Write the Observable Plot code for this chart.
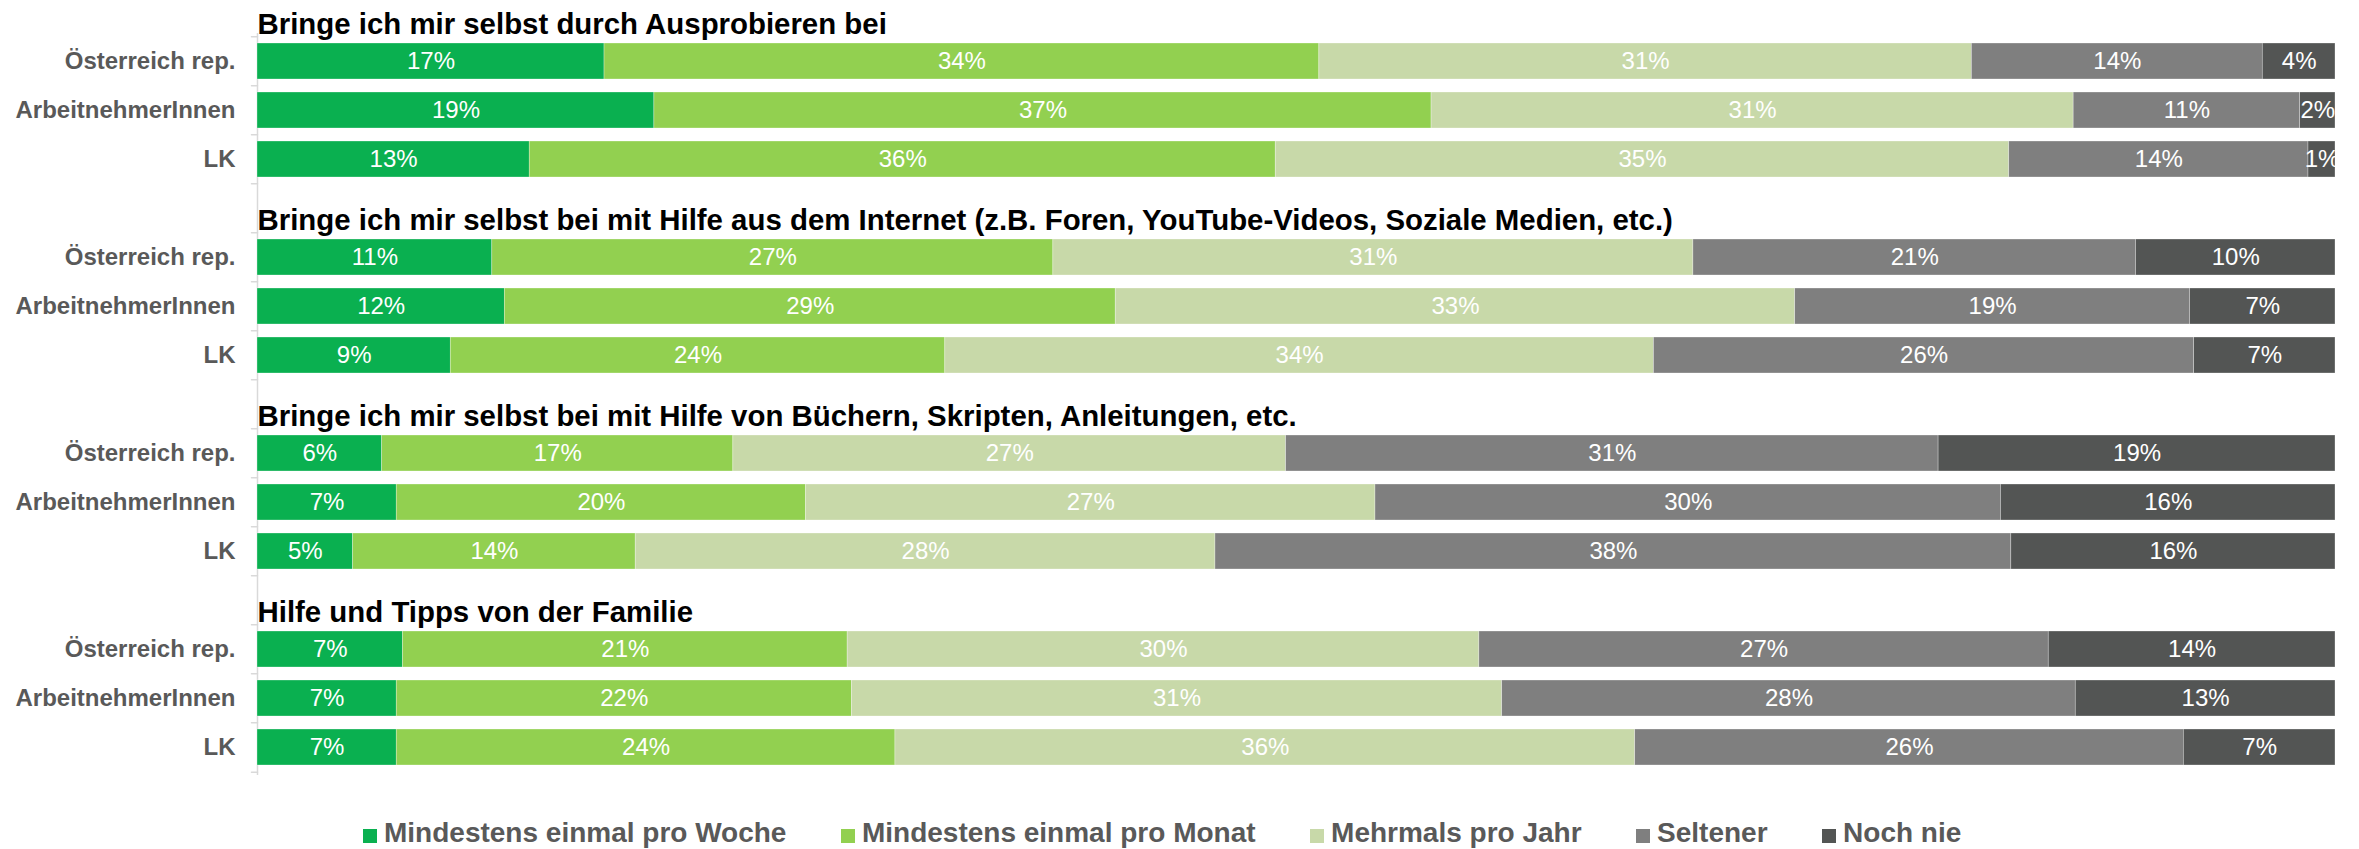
<!DOCTYPE html>
<html>
<head>
<meta charset="utf-8">
<script src="https://cdn.jsdelivr.net/npm/d3@7"></script>
<script src="https://cdn.jsdelivr.net/npm/@observablehq/plot@0.6"></script>
<style>
  html, body { margin: 0; padding: 0; background: #ffffff; }
  body { width: 2359px; height: 849px; overflow: hidden; font-family: "Liberation Sans", Arial, sans-serif; }
  #chart svg { display: block; }
  #legend { display: flex; align-items: center; padding-left: 363px; margin-top: 27px; height: 32px; line-height: 32px; }
  .item { display: flex; align-items: center; margin-right: 54.5px; font-weight: bold; font-size: 28px; color: #595959; white-space: nowrap; }
  .sw { width: 14px; height: 14px; margin-right: 7px; position: relative; top: 3px; }
</style>
</head>
<body>
<div id="chart"></div>
<div id="legend"></div>
<script>
// ---- data ----
const groupTitles = [
  "Bringe ich mir selbst durch Ausprobieren bei",
  "Bringe ich mir selbst bei mit Hilfe aus dem Internet (z.B. Foren, YouTube-Videos, Soziale Medien, etc.)",
  "Bringe ich mir selbst bei mit Hilfe von Büchern, Skripten, Anleitungen, etc.",
  "Hilfe und Tipps von der Familie"
];
const respondents = ["Österreich rep.", "ArbeitnehmerInnen", "LK"];
const categories = ["Mindestens einmal pro Woche", "Mindestens einmal pro Monat", "Mehrmals pro Jahr", "Seltener", "Noch nie"];
const colors = ["#0AB050", "#92D050", "#C8D9A9", "#7F7F7F", "#535554"];

// values per respondent (rows) and category (columns), in %
const ausprobieren = [
  [16.7, 34.4, 31.4, 14.0, 3.5],
  [19.1, 37.4, 30.9, 10.9, 1.7],
  [13.1, 35.9, 35.3, 14.4, 1.3]
];
const internet = [
  [11.3, 27.0, 30.8, 21.3, 9.6],
  [11.9, 29.4, 32.7, 19.0, 7.0],
  [9.3, 23.8, 34.1, 26.0, 6.8]
];
const buecher = [
  [6.0, 16.9, 26.6, 31.4, 19.1],
  [6.7, 19.7, 27.4, 30.1, 16.1],
  [4.6, 13.6, 27.9, 38.3, 15.6]
];
const familie = [
  [7.0, 21.4, 30.4, 27.4, 13.8],
  [6.7, 21.9, 31.3, 27.6, 12.5],
  [6.7, 24.0, 35.6, 26.4, 7.3]
];
const groupValues = [ausprobieren, internet, buecher, familie];

// ---- build table ----
const rows = [];
const data = [];
groupValues.forEach((vals, g) => {
  respondents.forEach((r, i) => {
    const key = g + "|" + r;
    rows.push(key);
    categories.forEach((c, j) => data.push({row: key, category: c, value: vals[i][j]}));
  });
  if (g < groupValues.length - 1) rows.push(g + "|sp");
});
const titles = groupTitles.map((t, g) => ({title: t, row: g + "|" + respondents[0]}));

// ---- layout ----
const W = 2359, H = 790;
const marginTop = 33, marginBottom = 15, marginLeft = 257, marginRight = 24;
const step = (H - marginTop - marginBottom) / rows.length;
const font = "'Liberation Sans', Arial, sans-serif";

const lineShape = {draw(context, l) { context.moveTo(0, 0); context.lineTo(0, -l); }};

const chart = Plot.plot({
  width: W,
  height: H,
  marginTop, marginBottom, marginLeft, marginRight,
  style: {fontFamily: font, background: "#ffffff", overflow: "visible"},
  x: {domain: [0, 1], axis: null},
  y: {domain: rows, paddingInner: 0.27, paddingOuter: 0.135, axis: null},
  color: {domain: categories, range: colors},
  marks: [
    Plot.ruleX([0], {stroke: "#d9d9d9", strokeWidth: 1.5}),
    Plot.vector(rows, {y: d => d, frameAnchor: "left", length: 6, rotate: -90, anchor: "start", shape: lineShape, stroke: "#d9d9d9", strokeWidth: 1.5, dy: -step / 2}),
    Plot.vector([rows[rows.length - 1]], {y: d => d, frameAnchor: "left", length: 6, rotate: -90, anchor: "start", shape: lineShape, stroke: "#d9d9d9", strokeWidth: 1.5, dy: step / 2}),
    Plot.barX(data, Plot.stackX({x: "value", y: "row", fill: "category", offset: "normalize", stroke: "#ffffff", strokeWidth: 0.6, strokeOpacity: 0.5})),
    Plot.text(data, Plot.stackX({x: "value", y: "row", z: "category", offset: "normalize",
      text: d => Math.round(d.value) + "%", fill: "#ffffff", fontSize: 24, clip: true})),
    Plot.axisY({tickSize: 0, tickPadding: 22, label: null,
      tickFormat: d => d.endsWith("|sp") ? "" : d.split("|")[1],
      fontSize: 24, fontWeight: "bold", fill: "#595959"}),
    Plot.text(titles, {y: "row", text: "title", frameAnchor: "left", textAnchor: "start", lineAnchor: "bottom",
      dx: 0, dy: -28, fontSize: 29.4, fontWeight: "bold", fill: "#000000"})
  ]
});
document.getElementById("chart").appendChild(chart);

// ---- legend ----
const legend = document.getElementById("legend");
categories.forEach((c, i) => {
  const item = document.createElement("div");
  item.className = "item";
  const sw = document.createElement("span");
  sw.className = "sw";
  sw.style.background = colors[i];
  const label = document.createElement("span");
  label.textContent = c;
  item.appendChild(sw);
  item.appendChild(label);
  legend.appendChild(item);
});
</script>
</body>
</html>
